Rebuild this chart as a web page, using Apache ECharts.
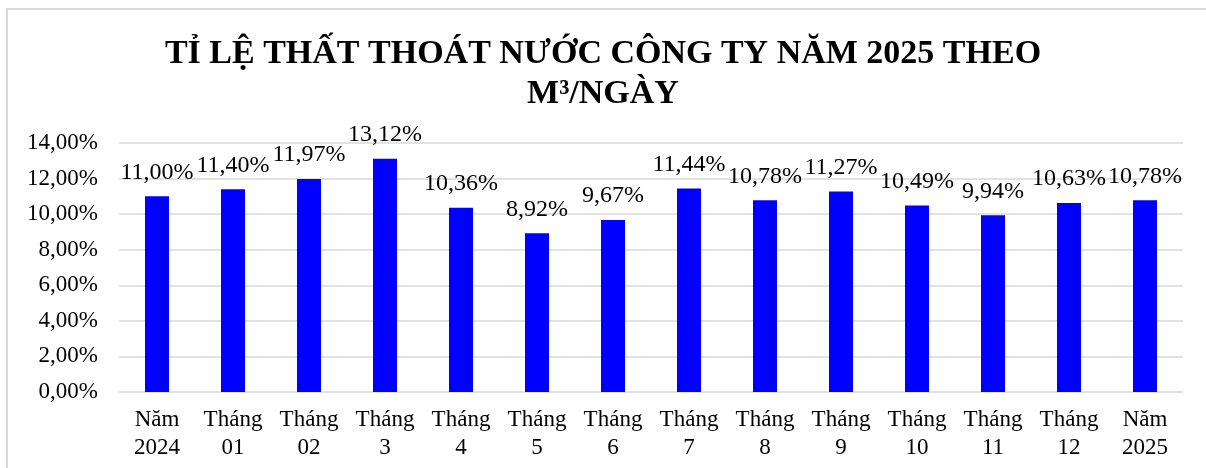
<!DOCTYPE html>
<html>
<head>
<meta charset="utf-8">
<script src="https://cdn.jsdelivr.net/npm/echarts@6/dist/echarts.min.js"></script>
<style>
  html, body { margin: 0; padding: 0; background: #fff; }
  #main { width: 1206px; height: 468px; }
</style>
</head>
<body>
<div id="main"></div>
<script>
// dữ liệu
var categories = ['Năm\n2024', 'Tháng\n01', 'Tháng\n02', 'Tháng\n3', 'Tháng\n4', 'Tháng\n5', 'Tháng\n6',
    'Tháng\n7', 'Tháng\n8', 'Tháng\n9', 'Tháng\n10', 'Tháng\n11', 'Tháng\n12', 'Năm\n2025'];
var lossRate = [11.00, 11.40, 11.97, 13.12, 10.36, 8.92, 9.67, 11.44, 10.78, 11.27, 10.49, 9.94, 10.63, 10.78];
var yTicks = [0, 2, 4, 6, 8, 10, 12, 14];

var serif = '"Liberation Serif", "DejaVu Serif", serif';

function pct(v) {
    return v.toFixed(2).replace('.', ',') + '%';
}

var option = {
    backgroundColor: '#fff',
    animation: false,
    title: {
        text: 'TỈ LỆ THẤT THOÁT NƯỚC CÔNG TY NĂM 2025 THEO\nM³/NGÀY',
        left: 'center',
        top: 29,
        textStyle: {
            fontFamily: serif,
            fontWeight: 'bold',
            fontSize: 34,
            lineHeight: 40,
            color: '#000'
        }
    },
    graphic: [{
        type: 'rect',
        shape: { x: 7, y: 9, width: 1220, height: 480 },
        style: { fill: 'none', stroke: '#d9d9d9', lineWidth: 2 },
        silent: true
    }],
    grid: {
        left: 119,
        right: 23,
        top: 143,
        bottom: 76
    },
    xAxis: {
        type: 'category',
        data: categories,
        axisLine: { show: false },
        axisTick: { show: false },
        axisLabel: {
            interval: 0,
            margin: 14,
            fontFamily: serif,
            fontSize: 23,
            lineHeight: 28,
            color: '#000'
        }
    },
    yAxis: {
        type: 'value',
        min: yTicks[0],
        max: yTicks[yTicks.length - 1],
        interval: 2,
        axisLine: { show: false },
        axisTick: { show: false },
        splitLine: { lineStyle: { color: '#d9d9d9', width: 1.5 } },
        axisLabel: {
            margin: 21,
            fontFamily: serif,
            fontSize: 23,
            color: '#000',
            formatter: function (v) { return pct(v); }
        }
    },
    series: [{
        type: 'bar',
        data: lossRate,
        barWidth: 24,
        itemStyle: { color: '#0000ff' },
        label: {
            show: true,
            position: 'top',
            distance: 12,
            fontFamily: serif,
            fontSize: 24,
            color: '#000',
            formatter: function (p) { return pct(p.value); }
        }
    }]
};

echarts.init(document.getElementById('main')).setOption(option);
</script>
</body>
</html>
